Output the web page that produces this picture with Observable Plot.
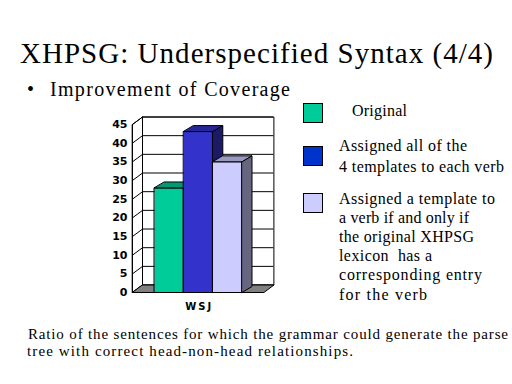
<!DOCTYPE html>
<html>
<head>
<meta charset="utf-8">
<script src="https://cdn.jsdelivr.net/npm/d3@7"></script>
<script src="https://cdn.jsdelivr.net/npm/@observablehq/plot@0.6"></script>
<style>
  html, body { margin: 0; padding: 0; background: #fff; }
  #page { position: relative; width: 512px; height: 384px; overflow: hidden; background: #fff; color: #000; }
  #page .t { position: absolute; white-space: nowrap; line-height: 1; font-family: "Liberation Serif", "Times New Roman", serif !important; }
  .box { position: absolute; width: 18px; height: 18px; border: 1.5px solid #000; }
  #chart { position: absolute; left: 100px; top: 105px; }
</style>
</head>
<body>
<div id="page"></div>
<script>
// ---- data ----
const categories = ["WSJ"];
const seriesNames = ["Original", "Assigned all of the 4 templates to each verb",
  "Assigned a template to a verb if and only if the original XHPSG lexicon has a corresponding entry for the verb"];
const values = [28.0, 43.1, 35.0];
const yTicks = [0, 5, 10, 15, 20, 25, 30, 35, 40, 45];
const frontColors = ["#00CC99", "#3333CC", "#CCCCFF"];
const topColors = ["#009973", "#26269A", "#9999BF"];
const sideColors = ["#00664C", "#1A1A66", "#666680"];
const legendColors = ["#00CC99", "#0033CC", "#CCCCFF"];
const legendLines = [
  ["Original"],
  ["Assigned all of the", "4 templates to each verb"],
  ["Assigned a template to", "a verb if and only if", "the original XHPSG", "lexicon  has a", "corresponding entry", "for the verb"]
];
const titleText = "XHPSG: Underspecified Syntax (4/4)";
const subtitleText = "Improvement of Coverage";
const captionLines = ["Ratio of the sentences for which the grammar could generate the parse",
  "tree with correct head-non-head relationships."];

const SERIF = "'Liberation Serif', 'Times New Roman', serif";
const page = document.getElementById("page");
function addText(str, x, baseline, size, target, extra) {
  const el = document.createElement("div");
  el.className = "t";
  el.textContent = str;
  el.style.setProperty("font-family", SERIF, "important");
  el.style.fontSize = size + "px";
  el.style.left = x + "px";
  el.style.top = (baseline - 0.8375 * size) + "px";
  if (extra) Object.assign(el.style, extra);
  page.appendChild(el);
  if (target) {
    const w = el.getBoundingClientRect().width;
    const n = str.length;
    if (n > 1) {
      const ls = Math.max(-0.6, Math.min(2, (target - w) / (n - 1)));
      el.style.letterSpacing = ls + "px";
    }
  }
  return el;
}

addText(titleText, 20, 63, 29, 473);
addText("\u2022", 27, 95.5, 20);
addText(subtitleText, 50, 95.5, 20, 240);

// legend
const legendBoxTops = [103, 145.5, 192.5];
const legendX = [352, 339, 339];
const legendBase = [[116.5], [151.5, 172.5], [204.5, 223.5, 242.5, 261.5, 280.5, 300]];
const legendTargets = [[55], [128, 165], [156, 130, 135, 93, 143, 88]];
legendLines.forEach((lines, i) => {
  const b = document.createElement("div");
  b.className = "box";
  b.style.left = "303px";
  b.style.top = legendBoxTops[i] + "px";
  b.style.background = legendColors[i];
  page.appendChild(b);
  lines.forEach((ln, j) => addText(ln, legendX[i], legendBase[i][j], 16, legendTargets[i][j], {whiteSpace: "pre"}));
});

addText(captionLines[0], 28, 340, 15, 480);
addText(captionLines[1], 27, 356.5, 15, 326);

// ---- chart ----
const W = 4.5;          // plane width in bar units
const dxw = 10 / 29.2;  // depth offset (x units)
const dyw = 2.0;        // depth offset (value units) for walls
const dyb = 1.6;        // depth offset for bars
const poly = (id, pts, fill) => pts.map(([x, y]) => ({id, x, y, fill}));

const backWall = poly("back", [[dxw, dyw], [W + dxw, dyw], [W + dxw, 45 + dyw], [dxw, 45 + dyw]], "white");
const leftWall = poly("left", [[0, 0], [dxw, dyw], [dxw, 45 + dyw], [0, 45]], "white");
const floor = poly("floor", [[0, 0], [W, 0], [W + dxw, dyw], [dxw, dyw]], "#808080");

const faces = [];
values.forEach((v, i) => {
  const x0 = 0.75 + i, x1 = x0 + 1;
  faces.push(...poly("f" + i, [[x0, 0], [x1, 0], [x1, v], [x0, v]], frontColors[i]));
  faces.push(...poly("t" + i, [[x0, v], [x1, v], [x1 + dxw, v + dyb], [x0 + dxw, v + dyb]], topColors[i]));
  faces.push(...poly("s" + i, [[x1, 0], [x1 + dxw, dyb], [x1 + dxw, v + dyb], [x1, v]], sideColors[i]));
});

const polyOpts = {x: "x", y: "y", z: "id", fill: "fill", stroke: "black", strokeWidth: 1, curve: "linear-closed", strokeLinejoin: "miter"};

const chart = Plot.plot({
  width: 190,
  height: 210,
  marginLeft: 32,
  marginRight: 16.6,
  marginTop: 11.5,
  marginBottom: 23,
  x: {domain: [0, W + dxw], axis: null},
  y: {domain: [0, 45 + dyw], axis: null},
  color: {type: "identity"},
  style: {background: "transparent", overflow: "visible"},
  marks: [
    Plot.line(backWall, polyOpts),
    Plot.ruleY(yTicks, {y: d => d + dyw, x1: dxw, x2: W + dxw, stroke: "black", strokeWidth: 1}),
    Plot.line(leftWall, polyOpts),
    Plot.link(yTicks, {x1: 0, y1: d => d, x2: dxw, y2: d => d + dyw, stroke: "black", strokeWidth: 1}),
    Plot.line(floor, polyOpts),
    Plot.ruleX([0], {y1: 0, y2: 45, stroke: "black", strokeWidth: 1}),
    Plot.line(faces, polyOpts),
    Plot.text(yTicks, {x: 0, y: d => d, text: d => String(d), textAnchor: "end", dx: -5, fontSize: 11, fontWeight: "bold", fill: "black", fontFamily: "DejaVu Sans"}),
    Plot.text(categories, {x: W / 2, y: 0, text: d => d, dy: 10, dx: 1, fontSize: 10, fontWeight: "bold", fill: "black", lineAnchor: "top", fontFamily: "DejaVu Sans"})
  ]
});
chart.id = "chart";
chart.querySelectorAll("text").forEach(t => {
  if (categories.includes(t.textContent)) t.style.letterSpacing = "2px";
});
page.appendChild(chart);
</script>
</body>
</html>
